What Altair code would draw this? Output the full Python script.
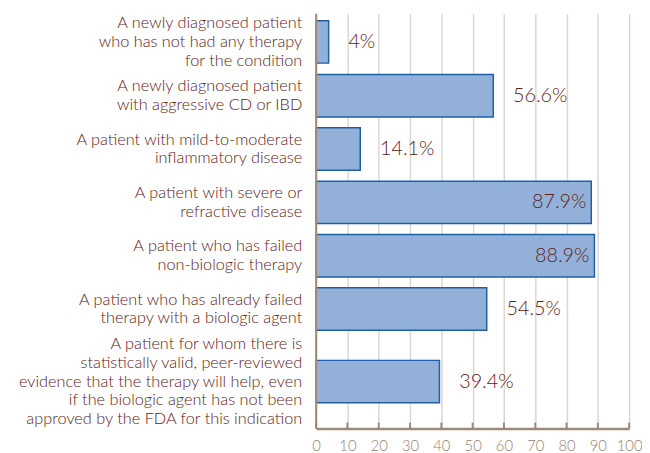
import altair as alt
import pandas as pd

categories = [
    "A newly diagnosed patient|who has not had any therapy|for the condition",
    "A newly diagnosed patient|with aggressive CD or IBD",
    "A patient with mild-to-moderate|inflammatory disease",
    "A patient with severe or|refractive disease",
    "A patient who has failed|non-biologic therapy",
    "A patient who has already failed|therapy with a biologic agent",
    "A patient for whom there is|statistically valid, peer-reviewed|evidence that the therapy will help, even|if the biologic agent has not been|approved by the FDA for this indication",
]
values = [4, 56.6, 14.1, 87.9, 88.9, 54.5, 39.4]
value_labels = ["4%", "56.6%", "14.1%", "87.9%", "88.9%", "54.5%", "39.4%"]
tick_values = [0, 10, 20, 30, 40, 50, 60, 70, 80, 90, 100]

# layout style constants (pixels)
LH = 19        # label line height
BAR = 43       # bar thickness
BAR_GAP = 11   # minimum gap between bars
TEXT_GAP = 7   # minimum gap between label blocks

df = pd.DataFrame({"cat": categories, "value": values, "label": value_labels})
df["lines"] = df["cat"].str.count(r"\|") + 1
half = [max((BAR + BAR_GAP) / 2, n * LH / 2) for n in df["lines"]]
centers = []
pos = half[0]
for i, n in enumerate(df["lines"]):
    if i > 0:
        prev = df["lines"][i - 1]
        pos += max(BAR + BAR_GAP, (prev + n) / 2 * LH + TEXT_GAP)
    centers.append(pos)
df["center"] = centers
total = centers[-1] + half[-1]
df["label_y"] = df["center"] - (df["lines"] - 1) * LH / 2
df["inside"] = df["value"] > 80
ticks_df = pd.DataFrame({"t": tick_values})
zero_df = pd.DataFrame({"x": [0]})

TEXT = "#5e2217"
AXIS = "#9c8b78"
FONT = "Lato"
H = round(total)
W = 317

yscale = alt.Scale(domain=[0, total], reverse=True, nice=False, zero=False, padding=0)
xscale = alt.Scale(domain=[0, 100], nice=False)
xaxis = alt.Axis(values=tick_values, grid=True, gridColor="#ddd6ce", gridWidth=1.5,
                 labelFont=FONT, labelFontSize=15, labelFontWeight=300,
                 labelColor="#948272", labelOverlap=False,
                 labelPadding=10, tickSize=0, domainColor=AXIS, domainWidth=2.5,
                 labelFlush=False, title=None)

def X(field):
    return alt.X(field, scale=xscale, axis=xaxis, title=None)

def Y(field):
    return alt.Y(field, scale=yscale, axis=None)

base = alt.Chart(df)

bars = base.mark_bar(color="#93b1d8", stroke="#1f5fa8", strokeWidth=1.5,
                     orient="horizontal", size=BAR).encode(y=Y("center:Q"), x=X("value:Q"))

cat_labels = base.mark_text(
    align="right", baseline="middle", lineBreak="|", lineHeight=LH,
    font=FONT, fontSize=16.5, fontWeight=300, color=TEXT
).encode(y=Y("label_y:Q"), x=alt.value(-14), text="cat:N")

outside = base.transform_filter("!datum.inside").mark_text(
    align="left", baseline="middle", dx=20, font=FONT, fontSize=20, fontWeight=300, color=TEXT
).encode(y=Y("center:Q"), x=X("value:Q"), text="label:N")

inside = base.transform_filter("datum.inside").mark_text(
    align="right", baseline="middle", dx=-5, font=FONT, fontSize=20, fontWeight=300, color=TEXT
).encode(y=Y("center:Q"), x=X("value:Q"), text="label:N")

y_domain = alt.Chart(zero_df).mark_rule(color=AXIS, strokeWidth=2).encode(
    x=X("x:Q"), y=alt.value(0), y2=alt.value(H)
)

tick_marks = alt.Chart(ticks_df).mark_rule(color=AXIS, strokeWidth=2).encode(
    x=X("t:Q"), y=alt.value(H - 6), y2=alt.value(H),
)

chart = alt.layer(bars, cat_labels, outside, inside, y_domain, tick_marks).properties(
    width=W, height=H,
    autosize=alt.AutoSizeParams(type="none"),
    padding={"left": 312, "top": 3, "right": 13, "bottom": 24},
).configure_view(stroke=None)

chart.save("out.html", embed_options={"renderer": "svg", "actions": False})
